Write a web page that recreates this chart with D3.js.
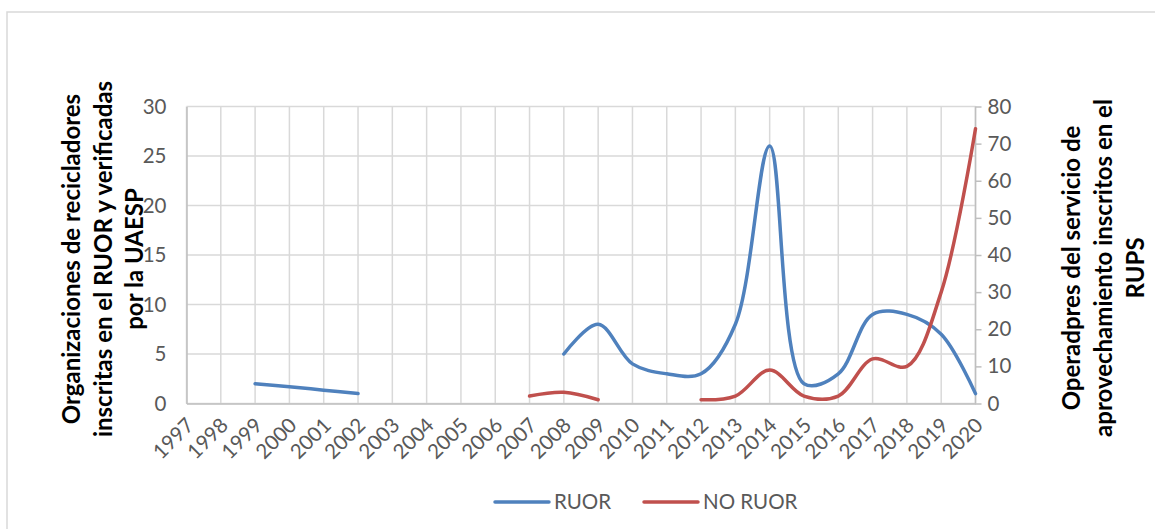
<!DOCTYPE html>
<html><head><meta charset="utf-8">
<script src="https://cdn.jsdelivr.net/npm/d3@7"></script>
<style>body{margin:0;background:#fff}svg{display:block}</style>
</head><body>
<script>
const years = ["1997","1998","1999","2000","2001","2002","2003","2004","2005","2006","2007","2008","2009","2010","2011","2012","2013","2014","2015","2016","2017","2018","2019","2020"];
const ruor = [null,null,2,1.7,1.35,1,null,null,null,null,null,5,8,4,3,3,8,26,2,3,9,9,7,1];
const noRuor = [null,null,null,null,null,null,null,null,null,null,2,3,1,null,null,1,2,9,2,2,12,10,30,74];
const leftTicks = [0,5,10,15,20,25,30];
const rightTicks = [0,10,20,30,40,50,60,70,80];
const leftTitle = ["Organizaciones de recicladores","inscritas en el RUOR y verificadas","por la UAESP"];
const rightTitle = ["Operadpres del servicio de","aprovechamiento inscritos en el","RUPS"];
const legendItems = [{name:"RUOR",color:"#4F81BD"},{name:"NO RUOR",color:"#C0504D"}];

const W=1155,H=529;
const svg=d3.select("body").append("svg").attr("width",W).attr("height",H);
const font="Lato, 'Open Sans', sans-serif";
svg.append("rect").attr("x",7).attr("y",12).attr("width",1160).attr("height",540)
  .attr("fill","#fff").attr("stroke","#d9d9d9").attr("stroke-width",1.5);

const L=186.5,R=975.5,T=106.5,B=403.5;
const x=d3.scalePoint().domain(years).range([L,R]);
const yL=d3.scaleLinear().domain([0,30]).range([B,T]);
const yR=d3.scaleLinear().domain([0,80]).range([B,T]);

// gridlines
const g=svg.append("g");
g.selectAll(".hg").data(leftTicks).join("line").attr("x1",L).attr("x2",R)
  .attr("y1",d=>yL(d)).attr("y2",d=>yL(d)).attr("stroke","#d9d9d9").attr("stroke-width",1.5);
g.selectAll(".vg").data(years).join("line").attr("x1",d=>x(d)).attr("x2",d=>x(d))
  .attr("y1",T).attr("y2",B).attr("stroke","#d9d9d9").attr("stroke-width",1.5);

// axes
const axL=svg.append("g").attr("transform",`translate(${L},0)`).call(d3.axisLeft(yL).tickValues(leftTicks).tickSize(0).tickPadding(20));
const axR=svg.append("g").attr("transform",`translate(${R},0)`).call(d3.axisRight(yR).tickValues(rightTicks).tickSize(6).tickPadding(6));
const axB=svg.append("g").attr("transform",`translate(0,${B})`).call(d3.axisBottom(x).tickSize(0).tickPadding(0));
[axL,axR,axB].forEach(a=>{
  a.select(".domain").attr("stroke","#bfbfbf").attr("stroke-width",1.5);
  a.selectAll(".tick line").attr("stroke","#bfbfbf").attr("stroke-width",1.5);
  a.selectAll("text").attr("fill","#595959").style("font-family",font).style("font-size","20.5px");
});
axR.select(".domain").attr("d",`M0,${T}V${B}`);
axB.selectAll(".tick text").attr("text-anchor","end").attr("dy","0.35em")
  .attr("transform","translate(3,18) rotate(-45)").attr("y",0).attr("x",0);

// lines
const line=v=>d3.line().defined(d=>d!=null).x((d,i)=>x(years[i])).y(d=>v(d)).curve(d3.curveCatmullRom.alpha(0.5));
svg.append("path").datum(ruor).attr("d",line(yL)).attr("fill","none").attr("stroke",legendItems[0].color).attr("stroke-width",3.5).attr("stroke-linecap","round");
svg.append("path").datum(noRuor).attr("d",line(yR)).attr("fill","none").attr("stroke",legendItems[1].color).attr("stroke-width",3.5).attr("stroke-linecap","round");

// axis titles
const lt=svg.append("text").attr("transform","translate(72,259) rotate(-90)").attr("text-anchor","middle")
  .style("font-family",font).style("font-size","24px").style("font-weight","bold").attr("fill","#000");
leftTitle.forEach((t,i)=>lt.append("tspan").attr("x",0).attr("y",8+i*31.5).text(t));
const rt=svg.append("text").attr("transform","translate(1072,268) rotate(-90)").attr("text-anchor","middle")
  .style("font-family",font).style("font-size","24px").style("font-weight","bold").attr("fill","#000");
rightTitle.forEach((t,i)=>rt.append("tspan").attr("x",0).attr("y",8+i*32).text(t));

// legend
const lg=svg.append("g");
const lx=[495,644];
legendItems.forEach((d,i)=>{
  lg.append("line").attr("x1",lx[i]).attr("x2",lx[i]+54).attr("y1",502).attr("y2",502)
    .attr("stroke",d.color).attr("stroke-width",3.5).attr("stroke-linecap","round");
  lg.append("text").attr("x",lx[i]+59).attr("y",502).attr("dy","0.35em").text(d.name)
    .attr("fill","#595959").style("font-family",font).style("font-size","20.5px");
});
</script>
</body></html>
